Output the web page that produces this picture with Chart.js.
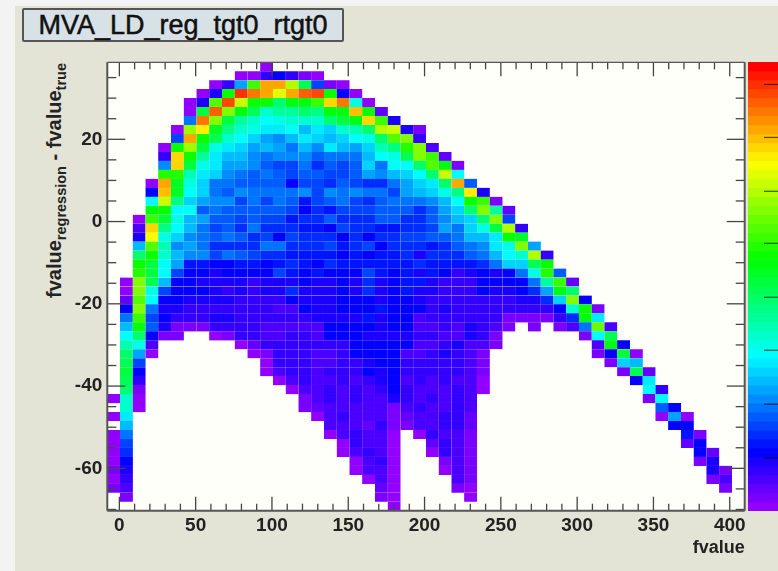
<!DOCTYPE html>
<html>
<head>
<meta charset="utf-8">
<title>MVA_LD_reg_tgt0_rtgt0</title>
<script src="https://cdn.jsdelivr.net/npm/chart.js@4/dist/chart.umd.min.js"></script>
<style>
    html, body { margin: 0; padding: 0; width: 778px; height: 571px; overflow: hidden; background: #f3f3f3; }
    #page { position: absolute; left: 0; top: 0; width: 778px; height: 571px; overflow: hidden; filter: blur(0.45px); font-family: "Liberation Sans", Arial, sans-serif; }
    #canvasBack { position: absolute; left: 15px; top: 6px; right: -5px; bottom: -5px; background: #e3e3d6; }
    #histTitle { position: absolute; left: 22px; top: 8px; width: 318px; height: 30px; line-height: 31px; border: 2px solid #555; border-radius: 2px; background: #d8e1e5; color: #111; font-size: 27px; text-align: center; -webkit-text-stroke: 0.5px #111; }
    #yTitle { position: absolute; left: 44px; top: 298px; white-space: nowrap; transform-origin: left top; transform: rotate(-90deg) ; font-size: 20px; font-weight: bold; color: #222; line-height: 20px; }
    #yTitle sub { font-size: 14.5px; vertical-align: -5px; line-height: 0; }
    #histCanvas { position: absolute; left: 0; top: 0; }
    #paletteCanvas { position: absolute; left: 748px; top: 62px; }
</style>
</head>
<body>
<div id="page">
    <div id="canvasBack"></div>
    <div id="histTitle">MVA_LD_reg_tgt0_rtgt0</div>
    <div id="yTitle">fvalue<sub>regression</sub> - fvalue<sub>true</sub></div>
    <canvas id="histCanvas" width="778" height="571"></canvas>
    <canvas id="paletteCanvas" width="30" height="449"></canvas>
</div>
<script>
// Axis ticks
const xMajorTicks = [0, 50, 100, 150, 200, 250, 300, 350, 400];
const xMinorTicks = [10, 20, 30, 40, 60, 70, 80, 90, 110, 120, 130, 140, 160, 170, 180, 190, 210, 220, 230, 240, 260, 270, 280, 290, 310, 320, 330, 340, 360, 370, 380, 390];
const yMajorTicks = [-60, -40, -20, 0, 20];
const yMinorTicks = [-70, -65, -55, -50, -45, -35, -30, -25, -15, -10, -5, 5, 10, 15, 25, 30, 35];
const paletteTicks = [5.9, 11.9, 17.9, 23.8, 29.8, 35.6, 41.6, 47.5];

// Histogram binning, 50 x 50
const xRange = [-7.9, 409.8];
const yRange = [-70.3, 38.72];
const binCount = 50;

// Colour level of each cell, row by row from the top. Each run is [first column, levels...]
const row00 = [[12, 0]];
const row01 = [[10, 0, 0, 4, 6, 4, 1, 0]];
const row02 = [[8, 0, 4, 13, 30, 42, 42, 35, 24, 9, 1, 0]];
const row03 = [[7, 0, 5, 28, 47, 44, 42, 37, 42, 45, 46, 28, 6, 0]];
const row04 = [[6, 0, 5, 31, 46, 36, 28, 28, 23, 27, 27, 30, 40, 44, 18, 0]];
const row05 = [[6, 0, 25, 45, 33, 27, 24, 19, 21, 21, 23, 22, 27, 27, 41, 28, 2]];
const row06 = [[6, 11, 44, 33, 25, 21, 19, 17, 18, 19, 19, 19, 23, 25, 27, 40, 30, 5]];
const row07 = [[5, 0, 34, 39, 26, 22, 19, 18, 16, 16, 17, 14, 16, 15, 19, 20, 23, 35, 36, 5, 1]];
const row08 = [[5, 9, 42, 28, 24, 19, 17, 15, 13, 12, 14, 16, 15, 14, 15, 17, 18, 23, 31, 33, 4]];
const row09 = [[4, 0, 28, 34, 25, 18, 16, 15, 13, 14, 13, 11, 14, 12, 16, 14, 13, 15, 20, 22, 29, 33, 3]];
const row10 = [[4, 4, 40, 28, 21, 16, 14, 14, 12, 11, 12, 12, 12, 10, 11, 11, 11, 14, 17, 18, 24, 33, 30, 2]];
const row11 = [[4, 12, 40, 25, 18, 16, 13, 13, 12, 10, 9, 9, 11, 8, 10, 9, 10, 15, 11, 17, 17, 23, 31, 27, 1]];
const row12 = [[4, 29, 29, 20, 16, 15, 12, 11, 10, 11, 10, 9, 10, 10, 9, 9, 10, 13, 12, 14, 15, 17, 23, 36, 17]];
const row13 = [[3, 0, 42, 26, 18, 15, 11, 11, 10, 10, 10, 10, 6, 9, 9, 8, 10, 9, 8, 8, 11, 13, 15, 16, 23, 42, 10]];
const row14 = [[3, 6, 41, 26, 17, 15, 11, 10, 12, 11, 11, 11, 11, 12, 9, 12, 11, 12, 11, 11, 9, 13, 14, 15, 18, 22, 39, 5]];
const row15 = [[3, 17, 36, 22, 15, 13, 12, 12, 9, 11, 9, 11, 10, 7, 9, 10, 11, 9, 8, 10, 11, 11, 11, 12, 14, 17, 28, 30, 1]];
const row16 = [[3, 27, 28, 17, 17, 10, 11, 10, 10, 10, 10, 10, 9, 6, 8, 7, 9, 9, 9, 10, 10, 10, 8, 10, 13, 15, 23, 33, 21, 2]];
const row17 = [[2, 0, 30, 25, 18, 14, 13, 10, 10, 9, 10, 9, 9, 7, 8, 8, 10, 8, 8, 8, 10, 10, 8, 8, 10, 12, 14, 15, 23, 33, 9]];
const row18 = [[2, 3, 40, 22, 17, 14, 11, 9, 10, 8, 11, 8, 8, 8, 7, 7, 6, 9, 8, 8, 7, 7, 8, 8, 9, 13, 11, 15, 18, 25, 35, 4]];
const row19 = [[2, 5, 38, 18, 15, 12, 11, 10, 11, 10, 8, 9, 6, 9, 8, 8, 8, 6, 8, 6, 8, 8, 9, 9, 10, 10, 11, 14, 14, 16, 28, 26]];
const row20 = [[2, 14, 31, 20, 12, 13, 11, 8, 8, 8, 8, 11, 11, 8, 8, 8, 9, 7, 8, 9, 6, 8, 8, 8, 7, 8, 10, 11, 12, 16, 18, 33, 13]];
const row21 = [[2, 23, 28, 19, 14, 12, 12, 9, 11, 10, 9, 8, 8, 7, 7, 7, 7, 6, 7, 6, 7, 7, 8, 5, 8, 8, 8, 10, 11, 14, 17, 19, 35, 4]];
const row22 = [[2, 28, 25, 17, 13, 7, 7, 6, 6, 7, 7, 6, 7, 8, 7, 6, 8, 7, 7, 7, 7, 7, 7, 8, 7, 7, 7, 7, 8, 11, 15, 15, 24, 28]];
const row23 = [[2, 29, 25, 17, 9, 6, 6, 5, 6, 6, 6, 6, 9, 7, 6, 7, 6, 6, 6, 9, 7, 6, 7, 5, 7, 6, 4, 5, 6, 5, 6, 11, 18, 29, 10]];
const row24 = [[1, 0, 33, 24, 14, 6, 6, 5, 5, 5, 5, 4, 5, 5, 5, 6, 5, 5, 6, 5, 8, 5, 6, 7, 7, 5, 4, 4, 4, 6, 6, 6, 6, 11, 21, 30, 2]];
const row25 = [[1, 0, 33, 18, 9, 6, 6, 6, 5, 4, 5, 4, 5, 5, 8, 5, 5, 5, 6, 5, 8, 5, 6, 7, 5, 5, 4, 4, 4, 6, 5, 5, 6, 8, 13, 27, 23]];
const row26 = [[1, 2, 31, 17, 6, 6, 5, 5, 5, 5, 4, 4, 4, 4, 6, 5, 5, 5, 6, 6, 6, 5, 6, 6, 5, 4, 4, 4, 4, 4, 4, 4, 5, 5, 8, 15, 33, 6]];
const row27 = [[1, 6, 33, 11, 5, 5, 4, 4, 4, 4, 4, 4, 4, 3, 3, 6, 5, 5, 6, 6, 6, 7, 6, 6, 6, 4, 5, 4, 4, 4, 4, 4, 4, 4, 4, 6, 19, 28, 1]];
const row28 = [[1, 11, 30, 9, 6, 4, 4, 4, 5, 5, 4, 4, 4, 4, 4, 4, 5, 5, 5, 5, 7, 5, 6, 6, 3, 4, 4, 4, 4, 4, 4, 1, 1, 1, 1, 4, 8, 27, 16]];
const row29 = [[1, 14, 28, 10, 5, 1, 1, 1, 4, 4, 4, 4, 3, 3, 3, 3, 3, 6, 6, 6, 6, 5, 6, 6, 3, 3, 4, 3, 5, 4, 3, 1], [33, 1], [35, 1, 3, 11, 32, 3]];
const row30 = [[1, 17, 23, 6, 1, 1], [8, 0, 1, 4, 4, 3, 3, 4, 4, 3, 6, 6, 6, 5, 5, 5, 5, 4, 4, 3, 3, 5, 4, 1], [37, 1, 17, 24]];
const row31 = [[1, 20, 18, 3], [10, 0, 2, 4, 4, 4, 4, 4, 4, 4, 6, 6, 6, 6, 6, 3, 3, 4, 5, 3, 3, 1], [38, 3, 27, 6]];
const row32 = [[1, 23, 13, 0], [11, 0, 1, 4, 4, 4, 3, 3, 4, 6, 6, 6, 6, 3, 3, 4, 5, 4, 3, 1], [38, 1, 6, 25, 0]];
const row33 = [[1, 24, 9], [12, 0, 4, 4, 4, 3, 3, 4, 4, 5, 6, 6, 4, 4, 4, 4, 4, 3, 1], [39, 1, 15, 14]];
const row34 = [[1, 25, 6], [12, 0, 3, 4, 4, 3, 4, 4, 4, 6, 5, 6, 4, 4, 4, 4, 4, 3, 1], [40, 1, 24, 2]];
const row35 = [[1, 24, 4], [13, 0, 3, 4, 3, 3, 4, 3, 4, 5, 6, 3, 4, 3, 4, 3, 3, 0], [41, 6, 16]];
const row36 = [[1, 23, 1], [14, 0, 3, 3, 4, 3, 4, 3, 4, 6, 4, 3, 3, 3, 4, 3, 0], [42, 17, 4]];
const row37 = [[0, 0, 19, 0], [15, 1, 3, 4, 3, 4, 3, 3, 5, 4, 3, 4, 3, 4, 3], [42, 1, 17]];
const row38 = [[1, 19, 0], [15, 1, 2, 3, 3, 3, 3, 3, 1, 3, 4, 3, 3, 4, 3], [43, 10, 6]];
const row39 = [[0, 0, 16], [16, 0, 3, 4, 3, 3, 3, 1, 2, 3, 3, 4, 4, 2], [43, 0, 13, 0]];
const row40 = [[1, 14], [17, 3, 3, 3, 2, 4, 1, 1, 3, 3, 4, 4, 2], [44, 6, 6]];
const row41 = [[0, 0, 11], [17, 0, 3, 4, 3, 3, 0], [24, 0, 4, 3, 3, 1], [45, 7, 1]];
const row42 = [[0, 0, 9], [18, 0, 4, 3, 3, 0], [25, 2, 4, 3, 1], [45, 2, 6]];
const row43 = [[0, 0, 8], [18, 0, 3, 4, 3, 0], [25, 0, 4, 3, 1], [46, 6, 2]];
const row44 = [[0, 0, 6], [19, 0, 3, 4, 0], [26, 1, 3, 1], [46, 1, 5]];
const row45 = [[0, 1, 5], [19, 0, 3, 3, 0], [26, 0, 3, 1], [47, 5, 1]];
const row46 = [[0, 0, 4], [20, 0, 3, 0], [27, 3, 1], [47, 1, 3]];
const row47 = [[0, 1, 3], [21, 2, 0], [27, 1, 0], [48, 1]];
const row48 = [[1, 1], [21, 1, 0], [28, 0]];
const row49 = [[22, 0]];

const levelRows = [
    row00, row01, row02, row03, row04, row05, row06, row07, row08, row09,
    row10, row11, row12, row13, row14, row15, row16, row17, row18, row19,
    row20, row21, row22, row23, row24, row25, row26, row27, row28, row29,
    row30, row31, row32, row33, row34, row35, row36, row37, row38, row39,
    row40, row41, row42, row43, row44, row45, row46, row47, row48, row49
];

const FONT = '"Liberation Sans", Arial, sans-serif';

// ROOT rainbow palette, level 0 is purple and level 49 is red
function levelColor(level) {
    return `hsl(${280 - (level + 1) * 5.6}, 100%, 50%)`;
}

function buildCells() {
    const dx = (xRange[1] - xRange[0]) / binCount;
    const dy = (yRange[1] - yRange[0]) / binCount;
    const cells = [];
    levelRows.forEach((runs, row) => {
        runs.forEach(run => {
            run.slice(1).forEach((level, i) => {
                const top = yRange[1] - row * dy;
                cells.push({ x: xRange[0] + (run[0] + i + 0.5) * dx, y: [top - dy, top], level });
            });
        });
    });
    return cells;
}

// ROOT style ticks point inward, Chart.js grid lines cannot do that
const frameTicks = {
    id: 'frameTicks',
    beforeDatasetsDraw(chart) {
        const { ctx, chartArea: a } = chart;
        ctx.save();
        ctx.fillStyle = '#fffffa';
        ctx.fillRect(a.left, a.top, a.right - a.left, a.bottom - a.top);
        ctx.restore();
    },
    afterDatasetsDraw(chart) {
        const { ctx, chartArea: a, scales } = chart;
        const tick = (x1, y1, x2, y2) => {
            ctx.beginPath();
            ctx.moveTo(x1, y1);
            ctx.lineTo(x2, y2);
            ctx.stroke();
        };
        ctx.save();
        ctx.strokeStyle = '#444';
        ctx.lineWidth = 1.3;
        const xTicks = (values, len) => values.forEach(v => {
            const px = scales.x.getPixelForValue(v);
            tick(px, a.top, px, a.top + len);
            tick(px, a.bottom, px, a.bottom - len);
        });
        const yTicks = (values, len) => values.forEach(v => {
            const py = scales.y.getPixelForValue(v);
            tick(a.left, py, a.left + len, py);
            tick(a.right, py, a.right - len, py);
        });
        xTicks(xMajorTicks, 14);
        xTicks(xMinorTicks, 7);
        yTicks(yMajorTicks, 18);
        yTicks(yMinorTicks, 9);
        ctx.strokeStyle = '#555';
        ctx.lineWidth = 1.2;
        tick(a.left, a.top, a.right, a.top);
        ctx.lineWidth = 2;
        tick(a.left, a.top, a.left, a.bottom);
        tick(a.left, a.bottom, a.right, a.bottom);
        tick(a.right, a.top, a.right, a.bottom);
        ctx.restore();
    }
};

new Chart(document.getElementById('histCanvas'), {
    type: 'bar',
    data: {
        datasets: [{
            data: buildCells(),
            backgroundColor: ctx => levelColor(ctx.raw.level),
            borderColor: 'rgba(255, 255, 255, 0.25)',
            borderWidth: 0.25,
            borderSkipped: false,
            barThickness: 637.4 / binCount,
            grouped: false
        }]
    },
    options: {
        responsive: false,
        animation: false,
        layout: { padding: { top: 62.3, right: 33.3, bottom: 0, left: 0 } },
        plugins: { legend: { display: false }, tooltip: { enabled: false } },
        scales: {
            x: {
                type: 'linear',
                min: xRange[0],
                max: xRange[1],
                offset: false,
                grid: { display: false, drawTicks: false },
                border: { display: false },
                afterBuildTicks: scale => { scale.ticks = xMajorTicks.map(value => ({ value })); },
                afterFit: scale => { scale.height = 60.3; },
                ticks: { autoSkip: false, maxRotation: 0, padding: 4, color: '#222', font: { family: FONT, size: 19, weight: 'bold' } },
                title: { display: true, text: 'fvalue', align: 'end', color: '#222', padding: { top: 0, bottom: 12 }, font: { family: FONT, size: 18, weight: 'bold' } }
            },
            y: {
                type: 'linear',
                min: yRange[0],
                max: yRange[1],
                grid: { display: false, drawTicks: false },
                border: { display: false },
                afterBuildTicks: scale => { scale.ticks = yMajorTicks.map(value => ({ value })); },
                afterFit: scale => { scale.width = 107.3; },
                ticks: { autoSkip: false, padding: 5, color: '#222', font: { family: FONT, size: 19, weight: 'bold' } }
            }
        }
    },
    plugins: [frameTicks]
});

// Colour palette strip next to the frame, its axis labels are cut off by the window
const paletteStrip = {
    id: 'paletteStrip',
    afterDatasetsDraw(chart) {
        const { ctx, chartArea: a, scales } = chart;
        ctx.save();
        ctx.strokeStyle = 'rgba(0, 0, 0, 0.65)';
        ctx.lineWidth = 1.2;
        paletteTicks.forEach(v => {
            const py = scales.y.getPixelForValue(v);
            ctx.beginPath();
            ctx.moveTo(a.left + 16, py);
            ctx.lineTo(a.right, py);
            ctx.stroke();
        });
        ctx.restore();
    }
};

new Chart(document.getElementById('paletteCanvas'), {
    type: 'bar',
    data: {
        datasets: [{
            data: Array.from({ length: binCount }, (_, level) => ({ x: 0.5, y: [level, level + 1] })),
            backgroundColor: ctx => levelColor(ctx.dataIndex),
            borderWidth: 0,
            barThickness: 30
        }]
    },
    options: {
        responsive: false,
        animation: false,
        layout: { padding: 0 },
        plugins: { legend: { display: false }, tooltip: { enabled: false } },
        scales: {
            x: { type: 'linear', min: 0, max: 1, offset: false, display: false },
            y: { type: 'linear', min: 0, max: binCount, display: false }
        }
    },
    plugins: [paletteStrip]
});
</script>
</body>
</html>
